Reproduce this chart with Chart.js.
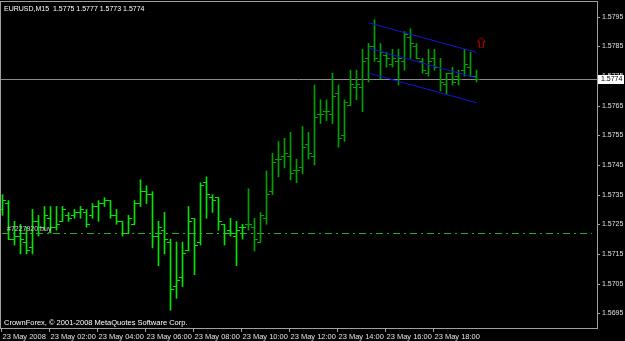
<!DOCTYPE html>
<html>
<head>
<meta charset="utf-8">
<script src="https://cdn.jsdelivr.net/npm/chart.js@4.4.1/dist/chart.umd.min.js"></script>
<style>
  html, body { margin: 0; padding: 0; background: #000; }
  #wrap { width: 625px; height: 341px; }
</style>
</head>
<body>
<div id="wrap"><canvas id="chart" width="625" height="341"></canvas></div>
<script>
// EURUSD M15, 23 May 2008
const symbol = 'EURUSD,M15';
const timeLabels = ['23 May 2008', '23 May 02:00', '23 May 04:00', '23 May 06:00', '23 May 08:00',
  '23 May 10:00', '23 May 12:00', '23 May 14:00', '23 May 16:00', '23 May 18:00'];
const barsPerLabel = 8;

const opens = [1.5730, 1.5732, 1.5720, 1.5721, 1.5719, 1.5717, 1.5726, 1.5724, 1.5727, 1.5724,
  1.5726, 1.5728, 1.5728, 1.5729, 1.5729, 1.5728, 1.5731, 1.5732, 1.5733, 1.5728,
  1.5726, 1.5722, 1.5725, 1.5732, 1.5736, 1.5735, 1.5721, 1.5723, 1.5719, 1.5704,
  1.5707, 1.5716, 1.5727, 1.5719, 1.5739, 1.5734, 1.5734, 1.5725, 1.5723, 1.5721,
  1.5724, 1.5725, 1.5724, 1.5719, 1.5727, 1.5736, 1.5747, 1.5748, 1.5748, 1.5743,
  1.5744, 1.5752, 1.5748, 1.5762, 1.5763, 1.5762, 1.5769, 1.5755, 1.5765, 1.5771,
  1.5771, 1.5781, 1.5785, 1.5780, 1.5782, 1.5779, 1.5780, 1.5780, 1.5788, 1.5785,
  1.5780, 1.5776, 1.5781, 1.5778, 1.5772, 1.5776, 1.5775, 1.5777, 1.5778, 1.5775];
const highs = [1.5735, 1.5733, 1.5726, 1.5725, 1.5724, 1.5730, 1.5728, 1.5731, 1.5731, 1.5731,
  1.5731, 1.5729, 1.5730, 1.5731, 1.5730, 1.5732, 1.5733, 1.5734, 1.5733, 1.5730,
  1.5726, 1.5728, 1.5733, 1.5740, 1.5738, 1.5736, 1.5726, 1.5729, 1.5720, 1.5719,
  1.5719, 1.5731, 1.5727, 1.5739, 1.5741, 1.5735, 1.5734, 1.5725, 1.5727, 1.5726,
  1.5725, 1.5737, 1.5727, 1.5729, 1.5743, 1.5749, 1.5753, 1.5754, 1.5756, 1.5747,
  1.5758, 1.5756, 1.5772, 1.5767, 1.5767, 1.5776, 1.5772, 1.5767, 1.5777, 1.5777,
  1.5784, 1.5786, 1.5794, 1.5786, 1.5783, 1.5784, 1.5784, 1.5790, 1.5791, 1.5786,
  1.5781, 1.5784, 1.5784, 1.5781, 1.5776, 1.5778, 1.5777, 1.5784, 1.5783, 1.5777];
const lows = [1.5728, 1.5720, 1.5718, 1.5715, 1.5715, 1.5715, 1.5721, 1.5723, 1.5722, 1.5723,
  1.5726, 1.5726, 1.5727, 1.5727, 1.5724, 1.5727, 1.5726, 1.5731, 1.5727, 1.5725,
  1.5721, 1.5722, 1.5725, 1.5731, 1.5732, 1.5717, 1.5711, 1.5715, 1.5696, 1.5700,
  1.5704, 1.5716, 1.5708, 1.5718, 1.5727, 1.5729, 1.5723, 1.5718, 1.5721, 1.5711,
  1.5720, 1.5723, 1.5716, 1.5719, 1.5725, 1.5735, 1.5741, 1.5744, 1.5740, 1.5739,
  1.5742, 1.5747, 1.5745, 1.5759, 1.5760, 1.5759, 1.5751, 1.5753, 1.5765, 1.5767,
  1.5763, 1.5773, 1.5780, 1.5774, 1.5778, 1.5778, 1.5772, 1.5777, 1.5781, 1.5781,
  1.5776, 1.5775, 1.5777, 1.5770, 1.5769, 1.5772, 1.5772, 1.5775, 1.5775, 1.5773];
const closes = [1.5733, 1.5720, 1.5721, 1.5720, 1.5716, 1.5726, 1.5724, 1.5728, 1.5724, 1.5725,
  1.5730, 1.5727, 1.5729, 1.5730, 1.5725, 1.5731, 1.5732, 1.5733, 1.5728, 1.5726,
  1.5722, 1.5727, 1.5732, 1.5736, 1.5735, 1.5721, 1.5724, 1.5720, 1.5703, 1.5706,
  1.5715, 1.5726, 1.5718, 1.5738, 1.5735, 1.5733, 1.5726, 1.5722, 1.5722, 1.5723,
  1.5724, 1.5725, 1.5720, 1.5728, 1.5735, 1.5746, 1.5747, 1.5749, 1.5742, 1.5743,
  1.5751, 1.5749, 1.5761, 1.5762, 1.5763, 1.5768, 1.5754, 1.5766, 1.5772, 1.5772,
  1.5780, 1.5785, 1.5781, 1.5783, 1.5781, 1.5781, 1.5781, 1.5789, 1.5786, 1.5781,
  1.5777, 1.5780, 1.5778, 1.5773, 1.5776, 1.5773, 1.5774, 1.5779, 1.5775, 1.5774];

const priceTicks = [1.5695, 1.5705, 1.5715, 1.5725, 1.5735, 1.5745, 1.5755, 1.5765, 1.5775, 1.5785, 1.5795];
const bidPrice = 1.5774;
const orderPrice = 1.5722;
const orderLabel = '#7227920 buy';
const copyright = 'CrownForex, \u00a9 2001-2008 MetaQuotes Software Corp.';

// canal desenhado (barra inicial/final e preços)
const channelBars = [61, 79];
const channelUpper = [1.5793, 1.5783];
const channelMiddle = [1.57844, 1.57744];
const channelLower = [1.5776, 1.5766];
const arrowBar = 79.8;
const arrowPrice = 1.57862;

const brightUntil = 41;
const brightGreen = '#00e400';
const darkGreen = '#00a000';
const barColor = i => (i < brightUntil ? brightGreen : darkGreen);

// pequenas imagens para os traços de abertura/fechamento
function tickImage(side, color) {
    const c = document.createElement('canvas');
    c.width = 7;
    c.height = 1;
    const g = c.getContext('2d');
    g.fillStyle = color;
    g.fillRect(side === 'left' ? 0 : 3, 0, 4, 1);
    return c;
}
const openTicks = [tickImage('left', brightGreen), tickImage('left', darkGreen)];
const closeTicks = [tickImage('right', brightGreen), tickImage('right', darkGreen)];

function arrowImage() {
    const c = document.createElement('canvas');
    c.width = 9;
    c.height = 11;
    const g = c.getContext('2d');
    g.strokeStyle = '#c00000';
    g.lineWidth = 1;
    g.beginPath();
    g.moveTo(4.5, 0.5);
    g.lineTo(8.5, 4.5);
    g.lineTo(6.5, 4.5);
    g.lineTo(6.5, 10.5);
    g.lineTo(2.5, 10.5);
    g.lineTo(2.5, 4.5);
    g.lineTo(0.5, 4.5);
    g.closePath();
    g.stroke();
    return c;
}

const mt4Plugin = {
    id: 'mt4',
    beforeDatasetsDraw(chart) {
        const { ctx, chartArea, scales } = chart;
        const y = scales.y;
        ctx.save();
        // linha da ordem (traço-ponto)
        const yo = Math.round(y.getPixelForValue(orderPrice)) + 0.5;
        ctx.strokeStyle = '#22b022';
        ctx.lineWidth = 1;
        ctx.setLineDash([7, 4, 2, 4]);
        ctx.beginPath();
        ctx.moveTo(chartArea.left + 2, yo);
        ctx.lineTo(chartArea.right - 5, yo);
        ctx.stroke();
        ctx.setLineDash([]);
        // linha do bid
        const yb = Math.round(y.getPixelForValue(bidPrice)) + 0.5;
        ctx.strokeStyle = '#8c8c8c';
        ctx.beginPath();
        ctx.moveTo(chartArea.left, yb);
        ctx.lineTo(chartArea.right, yb);
        ctx.stroke();
        ctx.restore();
    },
    afterDraw(chart) {
        const { ctx, chartArea, scales } = chart;
        const x = scales.x, y = scales.y;
        const L = chartArea.left, R = chartArea.right, T = chartArea.top, B = chartArea.bottom;
        ctx.save();
        // moldura
        ctx.strokeStyle = '#a0a0a0';
        ctx.lineWidth = 1;
        ctx.strokeRect(L + 0.5, T - 0.5, R - L, B - T + 1);

        ctx.fillStyle = '#e0e0e0';
        ctx.font = '7px "Liberation Sans"';
        ctx.textBaseline = 'middle';
        ctx.textAlign = 'left';
        priceTicks.forEach(v => {
            const py = Math.round(y.getPixelForValue(v)) + 0.5;
            ctx.beginPath();
            ctx.moveTo(R, py);
            ctx.lineTo(R + 3, py);
            ctx.stroke();
            ctx.fillText(v.toFixed(4), R + 5, py);
        });

        // caixa do preço atual
        const yb = Math.round(y.getPixelForValue(bidPrice));
        ctx.fillStyle = '#ffffff';
        ctx.fillRect(R + 1, yb - 4, 26, 9);
        ctx.fillStyle = '#000000';
        ctx.fillText(bidPrice.toFixed(4), R + 4, yb + 0.5);

        // eixo do tempo
        ctx.fillStyle = '#e0e0e0';
        ctx.font = '7.5px "Liberation Sans"';
        ctx.textBaseline = 'alphabetic';
        timeLabels.forEach((lab, k) => {
            const px = Math.floor(x.getPixelForValue(k * barsPerLabel)) - 0.5;
            ctx.beginPath();
            ctx.moveTo(px, B);
            ctx.lineTo(px, B + 4);
            ctx.stroke();
            ctx.fillText(lab, px + 1, B + 11);
        });

        // textos
        ctx.font = '7px "Liberation Sans"';
        ctx.fillStyle = '#ffffff';
        const n = closes.length - 1;
        const header = symbol + '  ' + [opens[n], highs[n], lows[n], closes[n]].map(v => v.toFixed(4)).join(' ');
        ctx.fillText(header, L + 4, T + 9);
        ctx.font = '7.5px "Liberation Sans"';
        ctx.fillText(copyright, L + 4, B - 3);
        ctx.font = '7px "Liberation Sans"';
        ctx.fillStyle = '#d0d0d0';
        ctx.fillText(orderLabel, L + 7, y.getPixelForValue(orderPrice) - 2);
        ctx.restore();
    }
};

const idx = highs.map((_, i) => i);

window.addEventListener('load', function() {
    const canvas = document.getElementById('chart');
    if (!window.Chart) {
        console.error('Chart.js não está carregado');
        return;
    }
    new Chart(canvas.getContext('2d'), {
        data: {
            datasets: [
                {
                    type: 'bar',
                    data: idx.map(i => ({ x: i, y: [lows[i], highs[i]] })),
                    backgroundColor: c => barColor(c.dataIndex),
                    borderWidth: 0,
                    barThickness: 1,
                    order: 3
                },
                {
                    type: 'scatter',
                    data: idx.map(i => ({ x: i, y: opens[i] })),
                    pointStyle: c => openTicks[c.dataIndex < brightUntil ? 0 : 1],
                    pointRadius: 3,
                    order: 2
                },
                {
                    type: 'scatter',
                    data: idx.map(i => ({ x: i, y: closes[i] })),
                    pointStyle: c => closeTicks[c.dataIndex < brightUntil ? 0 : 1],
                    pointRadius: 3,
                    order: 2
                },
                {
                    type: 'line',
                    data: channelBars.map((b, k) => ({ x: b, y: channelUpper[k] })),
                    borderColor: '#1414d8', borderWidth: 1, pointRadius: 0, order: 1
                },
                {
                    type: 'line',
                    data: channelBars.map((b, k) => ({ x: b, y: channelMiddle[k] })),
                    borderColor: '#1414d8', borderWidth: 1, pointRadius: 0, order: 1
                },
                {
                    type: 'line',
                    data: channelBars.map((b, k) => ({ x: b, y: channelLower[k] })),
                    borderColor: '#1414d8', borderWidth: 1, pointRadius: 0, order: 1
                },
                {
                    type: 'scatter',
                    data: [{ x: arrowBar, y: arrowPrice }],
                    pointStyle: arrowImage(),
                    pointRadius: 5,
                    order: 0
                }
            ]
        },
        options: {
            responsive: false,
            animation: false,
            devicePixelRatio: 1,
            layout: { autoPadding: false, padding: { left: 0, top: 2, right: 28, bottom: 13 } },
            scales: {
                x: { type: 'linear', display: false, offset: false, min: -2.5 / 6, max: -2.5 / 6 + 99.5 },
                y: { type: 'linear', display: false, min: 1.5690, max: 1.5800 }
            },
            plugins: {
                legend: { display: false },
                tooltip: { enabled: false }
            }
        },
        plugins: [mt4Plugin]
    });
});
</script>
</body>
</html>
